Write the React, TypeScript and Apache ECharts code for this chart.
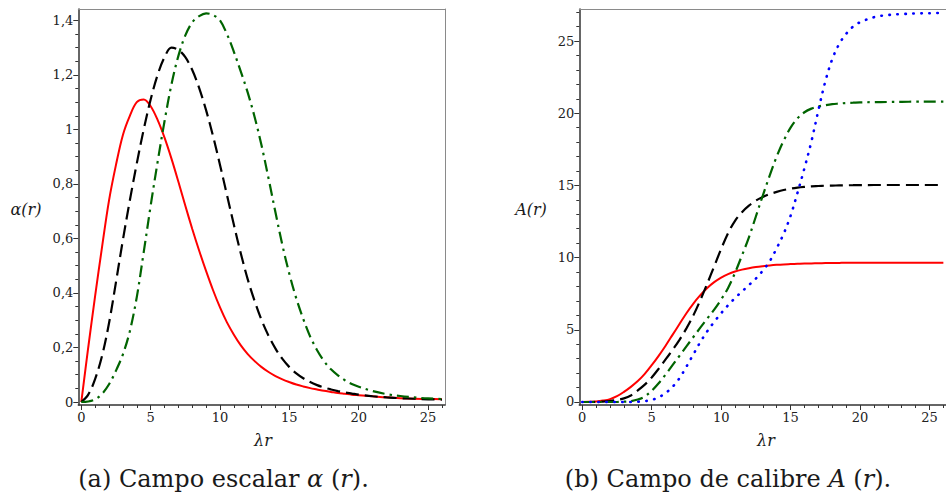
import React, { useEffect, useRef } from 'react';
import * as echarts from 'echarts';

// x grid (λr)
const X = [0, 0.5, 1, 1.5, 2, 2.5, 3, 3.5, 4, 4.5, 5, 5.5, 6, 6.5, 7, 7.5, 8, 8.5, 9, 9.5,
  10, 10.5, 11, 11.5, 12, 12.5, 13, 13.5, 14, 14.5, 15, 15.5, 16, 16.5, 17, 17.5, 18, 18.5, 19, 19.5,
  20, 21, 22, 23, 24, 25, 26];

// (a) scalar field α(r)
const alphaRed = [0, 0.2, 0.39, 0.57, 0.74, 0.87, 0.98, 1.05, 1.1, 1.11,
  1.085, 1.035, 0.97, 0.893, 0.808, 0.72, 0.635, 0.555, 0.48, 0.41,
  0.347, 0.292, 0.247, 0.208, 0.176, 0.15, 0.128, 0.11, 0.095, 0.083,
  0.073, 0.064, 0.057, 0.051, 0.046, 0.041, 0.037, 0.033, 0.03, 0.027,
  0.025, 0.021, 0.017, 0.014, 0.012, 0.011, 0.01];
const alphaBlack = [0, 0.027, 0.085, 0.17, 0.29, 0.44, 0.595, 0.74, 0.875, 1.0,
  1.11, 1.2, 1.265, 1.3, 1.292, 1.265, 1.218, 1.152, 1.07, 0.975,
  0.87, 0.76, 0.65, 0.545, 0.45, 0.37, 0.3, 0.243, 0.196, 0.158,
  0.128, 0.105, 0.087, 0.073, 0.062, 0.053, 0.046, 0.04, 0.035, 0.031,
  0.027, 0.021, 0.017, 0.014, 0.012, 0.01, 0.009];
const alphaGreen = [0, 0.002, 0.01, 0.03, 0.065, 0.115, 0.175, 0.26, 0.385, 0.55,
  0.72, 0.88, 1.03, 1.165, 1.27, 1.345, 1.393, 1.416, 1.426, 1.42,
  1.4, 1.35, 1.285, 1.212, 1.135, 1.045, 0.94, 0.82, 0.695, 0.575,
  0.47, 0.38, 0.305, 0.24, 0.19, 0.15, 0.12, 0.098, 0.08, 0.066,
  0.056, 0.04, 0.029, 0.022, 0.017, 0.013, 0.011];

// (b) gauge field A(r)
const aRed = [0, 0.01, 0.04, 0.1, 0.2, 0.4, 0.7, 1.05, 1.45, 1.95,
  2.55, 3.2, 3.9, 4.65, 5.4, 6.15, 6.82, 7.4, 7.9, 8.3,
  8.62, 8.86, 9.04, 9.17, 9.27, 9.35, 9.41, 9.46, 9.5, 9.53,
  9.55, 9.57, 9.59, 9.6, 9.61, 9.62, 9.63, 9.635, 9.64, 9.64,
  9.645, 9.65, 9.65, 9.65, 9.65, 9.65, 9.65];
const aBlack = [0, 0, 0.01, 0.03, 0.07, 0.14, 0.25, 0.45, 0.8, 1.2,
  1.7, 2.3, 2.95, 3.6, 4.3, 5.1, 6.0, 7.05, 8.2, 9.4,
  10.6, 11.7, 12.55, 13.15, 13.6, 13.95, 14.2, 14.4, 14.55, 14.68,
  14.78, 14.85, 14.9, 14.94, 14.96, 14.98, 14.99, 15.0, 15.01, 15.015,
  15.02, 15.03, 15.03, 15.03, 15.03, 15.03, 15.03];
const aGreen = [0, 0, 0, 0, 0, 0, 0.02, 0.06, 0.17, 0.38,
  0.78, 1.3, 1.9, 2.55, 3.2, 3.85, 4.5, 5.15, 5.78, 6.4,
  7.1, 7.9, 8.95, 10.15, 11.4, 12.85, 14.3, 15.7, 17.0, 18.1,
  19.0, 19.65, 20.07, 20.32, 20.47, 20.56, 20.63, 20.67, 20.71, 20.73,
  20.75, 20.77, 20.78, 20.79, 20.8, 20.8, 20.8];
const aBlue = [0, 0, 0, 0, 0, 0, 0, 0, 0.02, 0.06,
  0.15, 0.32, 0.62, 1.05, 1.65, 2.45, 3.3, 4.15, 4.9, 5.55,
  6.15, 6.7, 7.2, 7.65, 8.1, 8.55, 9.1, 9.75, 10.65, 11.65,
  12.9, 14.5, 16.2, 18.05, 20.2, 22.2, 23.75, 24.8, 25.5, 26.0,
  26.3, 26.65, 26.8, 26.87, 26.91, 26.93, 26.95];

// ticks
const X_MAJOR = [0, 5, 10, 15, 20, 25];
const X_MINOR = [1, 2, 3, 4, 6, 7, 8, 9, 11, 12, 13, 14, 16, 17, 18, 19, 21, 22, 23, 24, 26];
const ALPHA_MAJOR = [0, 0.2, 0.4, 0.6, 0.8, 1, 1.2, 1.4];
const ALPHA_MINOR = [0.05, 0.1, 0.15, 0.25, 0.3, 0.35, 0.45, 0.5, 0.55, 0.65, 0.7, 0.75,
  0.85, 0.9, 0.95, 1.05, 1.1, 1.15, 1.25, 1.3, 1.35];
const A_MAJOR = [0, 5, 10, 15, 20, 25];
const A_MINOR = [1, 2, 3, 4, 6, 7, 8, 9, 11, 12, 13, 14, 16, 17, 18, 19, 21, 22, 23, 24, 26, 27];

const SERIF = 'DejaVu Serif';
const AXIS_COLOR = '#333';
const BOX_COLOR = '#8a8a8a';
const TICK_FONT = 13;

const pairs = (ys: number[]) => X.map((x, i) => [x, ys[i]]);

function mainX(gridIndex: number, min: number, max: number) {
  return {
    gridIndex, type: 'value', position: 'bottom', min, max,
    axisLine: { show: true, onZero: false, lineStyle: { color: AXIS_COLOR, width: 1.5 } },
    axisTick: { show: true, length: 5, customValues: X_MAJOR, lineStyle: { color: AXIS_COLOR, width: 1 } },
    axisLabel: {
      show: true, customValues: X_MAJOR, margin: 6, color: '#222',
      fontFamily: SERIF, fontSize: TICK_FONT, formatter: (v: number) => String(v),
    },
    splitLine: { show: false },
  };
}
function minorX(gridIndex: number, min: number, max: number) {
  return {
    gridIndex, type: 'value', position: 'bottom', min, max,
    axisLine: { show: false, onZero: false },
    axisTick: { show: true, length: 3, customValues: X_MINOR, lineStyle: { color: AXIS_COLOR, width: 1 } },
    axisLabel: { show: false },
    splitLine: { show: false },
  };
}
function topX(gridIndex: number, min: number, max: number) {
  return {
    gridIndex, type: 'value', position: 'top', min, max,
    axisLine: { show: true, onZero: false, lineStyle: { color: BOX_COLOR, width: 1 } },
    axisTick: { show: false }, axisLabel: { show: false }, splitLine: { show: false },
  };
}
function mainY(gridIndex: number, min: number, max: number, major: number[], fmt: (v: number) => string) {
  return {
    gridIndex, type: 'value', position: 'left', min, max,
    axisLine: { show: true, onZero: false, lineStyle: { color: AXIS_COLOR, width: 1.5 } },
    axisTick: { show: true, length: 5, customValues: major, lineStyle: { color: AXIS_COLOR, width: 1 } },
    axisLabel: {
      show: true, customValues: major, margin: 5, color: '#222',
      fontFamily: SERIF, fontSize: TICK_FONT, formatter: fmt,
    },
    splitLine: { show: false },
  };
}
function minorY(gridIndex: number, min: number, max: number, minor: number[]) {
  return {
    gridIndex, type: 'value', position: 'left', min, max,
    axisLine: { show: false, onZero: false },
    axisTick: { show: true, length: 3, customValues: minor, lineStyle: { color: AXIS_COLOR, width: 1 } },
    axisLabel: { show: false },
    splitLine: { show: false },
  };
}
function rightY(gridIndex: number, min: number, max: number) {
  return {
    gridIndex, type: 'value', position: 'right', min, max,
    axisLine: { show: true, onZero: false, lineStyle: { color: BOX_COLOR, width: 1 } },
    axisTick: { show: false }, axisLabel: { show: false }, splitLine: { show: false },
  };
}

const RED = { color: '#ff0000', width: 2, type: 'solid' };
const BLACK = { color: '#000000', width: 2.2, type: [13, 6] };
const GREEN = { color: '#006400', width: 2.2, type: [12, 5, 2.5, 5] };
const BLUE = { color: '#0000ff', width: 2.6, type: [0.5, 7.5], cap: 'round' };

function line(name: string, xi: number, yi: number, ys: number[], style: any) {
  return {
    name, type: 'line', xAxisIndex: xi, yAxisIndex: yi, data: pairs(ys),
    showSymbol: false, symbol: 'none', smooth: 0.35, clip: true,
    lineStyle: style, emphasis: { disabled: true },
  };
}

function txt(x: number, y: number, text: string, size: number, italic: boolean, rich?: any) {
  return {
    type: 'text', x, y, silent: true,
    style: {
      text,
      font: `${italic ? 'italic' : 'normal'} normal ${size}px ${SERIF}`,
      fontFamily: SERIF, fontSize: size, fontStyle: italic ? 'italic' : 'normal',
      fill: '#1a1a1a', align: 'center', verticalAlign: 'middle',
      textAlign: 'center', textVerticalAlign: 'middle', rich,
    },
  };
}

const alphaFmt = (v: number) => (v === 0 ? '0' : String(v).replace('.', ','));
const aFmt = (v: number) => String(v);

export default function App() {
  const ref = useRef<HTMLDivElement>(null);
  useEffect(() => {
    if (!ref.current) return;
    const chart = echarts.init(ref.current, undefined, { renderer: 'svg' });
    const LX = [-0.216, 26.22];
    const LY = [-0.011, 1.442];
    const RX = [-0.213, 26.19];
    const RY = [-0.208, 27.22];
    const richI = {
      i: { fontFamily: SERIF, fontSize: 24, fontStyle: 'italic', fill: '#1a1a1a' },
    };
    chart.setOption({
      animation: false,
      backgroundColor: '#ffffff',
      grid: [
        { left: 78.3, top: 9, width: 366.7, height: 396, containLabel: false },
        { left: 579.3, top: 9, width: 371.7, height: 396, containLabel: false },
      ],
      xAxis: [
        mainX(0, LX[0], LX[1]), minorX(0, LX[0], LX[1]), topX(0, LX[0], LX[1]),
        mainX(1, RX[0], RX[1]), minorX(1, RX[0], RX[1]), topX(1, RX[0], RX[1]),
      ],
      yAxis: [
        mainY(0, LY[0], LY[1], ALPHA_MAJOR, alphaFmt), minorY(0, LY[0], LY[1], ALPHA_MINOR), rightY(0, LY[0], LY[1]),
        mainY(1, RY[0], RY[1], A_MAJOR, aFmt), minorY(1, RY[0], RY[1], A_MINOR),
      ],
      series: [
        line('α1', 0, 0, alphaRed, RED),
        line('α2', 0, 0, alphaBlack, BLACK),
        line('α3', 0, 0, alphaGreen, GREEN),
        line('A1', 3, 3, aRed, RED),
        line('A2', 3, 3, aBlack, BLACK),
        line('A3', 3, 3, aGreen, GREEN),
        line('A4', 3, 3, aBlue, BLUE),
      ],
      graphic: [
        txt(263, 440, 'λr', 16, true),
        txt(766, 440, 'λr', 16, true),
        txt(26, 209, 'α(r)', 16, true),
        txt(531, 209, 'A(r)', 16, true),
        txt(223.5, 479, '(a) Campo escalar {i|α} ({i|r}).', 24, false, richI),
        txt(728, 479, '(b) Campo de calibre {i|A} ({i|r}).', 24, false, richI),
      ],
    });
    return () => chart.dispose();
  }, []);
  return (
    <div
      ref={ref}
      style={{ position: 'fixed', left: 0, top: 0, width: 946, height: 498, background: '#fff' }}
    />
  );
}
